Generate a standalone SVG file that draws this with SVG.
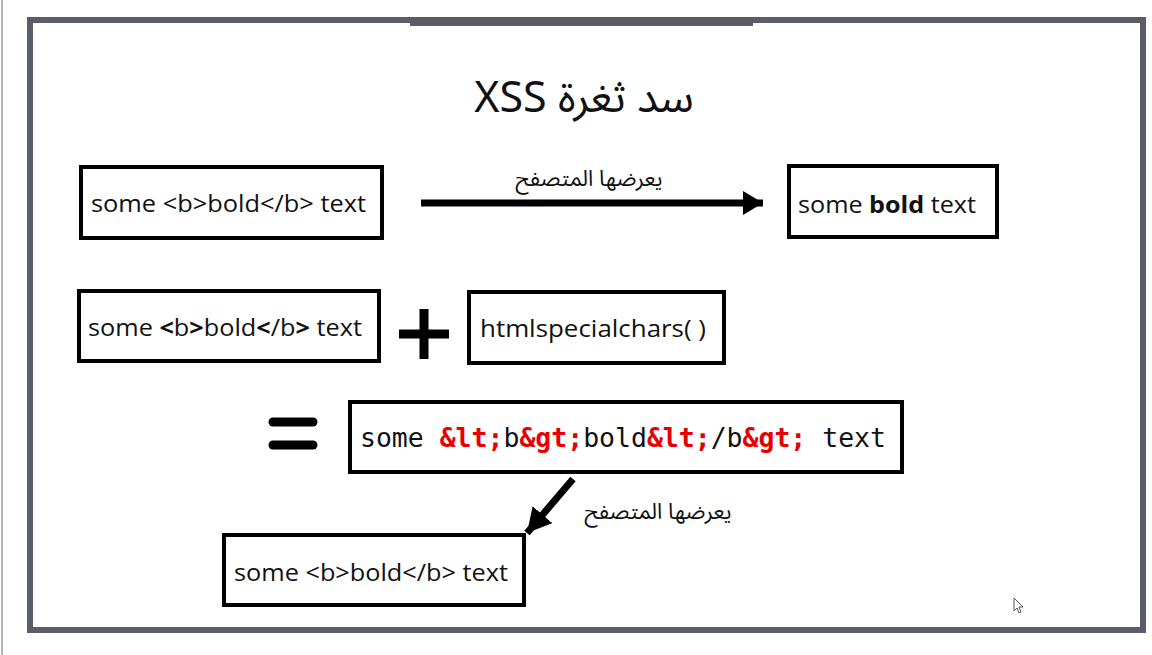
<svg xmlns="http://www.w3.org/2000/svg" width="1152" height="655" viewBox="0 0 1152 655">
<style>
.box{fill:#fff;stroke:#000;stroke-width:4}
.t{font-family:"Open Sans","Noto Sans","Liberation Sans",sans-serif;font-size:24px;fill:#111}
.ar{font-family:"Noto Sans Arabic","DejaVu Sans",sans-serif;font-size:22px;fill:#111}
.mono{font-family:"DejaVu Sans Mono","Liberation Mono",monospace;font-size:26px;fill:#111}
.red{fill:#e80000;font-weight:bold}
.conn{stroke:#000;fill:none}
</style>
<defs>
<marker id="ah" markerUnits="userSpaceOnUse" viewBox="0 0 20 24" refX="20" refY="12" markerWidth="20" markerHeight="24" orient="auto">
<path d="M0,0 L20,12 L0,24 Z" fill="#000"/>
</marker>
<marker id="ah2" markerUnits="userSpaceOnUse" viewBox="0 0 24 26" refX="24" refY="13" markerWidth="24" markerHeight="26" orient="auto">
<path d="M0,0 L24,13 L0,26 Z" fill="#000"/>
</marker>
</defs>
<rect width="1152" height="655" fill="#fff"/>
<line x1="2" y1="0" x2="2" y2="655" stroke="#b8b8bc" stroke-width="2"/>
<g id="frame">
<rect x="30" y="20" width="1113" height="610" fill="#fff" stroke="#5a5c68" stroke-width="6"/>
<rect x="410" y="17" width="343" height="9" fill="#5a5c68"/>
</g>
<g id="title">
<text x="584" y="112" direction="rtl" text-anchor="middle" font-family="Noto Sans Arabic, DejaVu Sans, sans-serif" font-size="43" fill="#111">سد ثغرة XSS</text>
</g>
<g id="connectors">
<line class="conn" x1="421" y1="203" x2="763" y2="203" stroke-width="7" marker-end="url(#ah)"/>
<line class="conn" x1="573" y1="479" x2="527" y2="533" stroke-width="7" marker-end="url(#ah2)"/>
<text class="ar" x="589" y="186" direction="rtl" text-anchor="middle">يعرضها المتصفح</text>
<text class="ar" x="658" y="519" direction="rtl" text-anchor="middle">يعرضها المتصفح</text>
</g>
<g id="node-source">
<rect class="box" x="81" y="167" width="301" height="71"/>
<text class="t" x="91" y="212" textLength="275" lengthAdjust="spacingAndGlyphs">some &lt;b&gt;bold&lt;/b&gt; text</text>
</g>
<g id="node-rendered">
<rect class="box" x="789" y="166" width="208" height="71"/>
<text class="t" x="798" y="213" textLength="178" lengthAdjust="spacingAndGlyphs">some <tspan font-weight="bold">bold</tspan> text</text>
</g>
<g id="node-input">
<rect class="box" x="79" y="291" width="300" height="70"/>
<text class="t" x="88" y="336" textLength="274" lengthAdjust="spacingAndGlyphs">some <tspan font-weight="bold">&lt;</tspan>b<tspan font-weight="bold">&gt;</tspan>bold<tspan font-weight="bold">&lt;</tspan>/b<tspan font-weight="bold">&gt;</tspan> text</text>
</g>
<g id="plus">
<line x1="424" y1="309" x2="424" y2="359" stroke="#000" stroke-width="9"/>
<line x1="399" y1="334" x2="449" y2="334" stroke="#000" stroke-width="9"/>
</g>
<g id="node-func">
<rect class="box" x="469" y="292" width="255" height="71"/>
<text class="t" x="480" y="337" textLength="226" lengthAdjust="spacingAndGlyphs">htmlspecialchars( )</text>
</g>
<g id="equals">
<line x1="273" y1="422" x2="313" y2="422" stroke="#000" stroke-width="9" stroke-linecap="round"/>
<line x1="273" y1="445" x2="313" y2="445" stroke="#000" stroke-width="9" stroke-linecap="round"/>
</g>
<g id="node-escaped">
<rect class="box" x="350" y="402" width="552" height="70"/>
<text class="mono" x="360" y="447" textLength="526" lengthAdjust="spacingAndGlyphs">some <tspan class="red">&amp;lt;</tspan>b<tspan class="red">&amp;gt;</tspan>bold<tspan class="red">&amp;lt;</tspan>/b<tspan class="red">&amp;gt;</tspan> text</text>
</g>
<g id="node-output">
<rect class="box" x="224" y="535" width="300" height="70"/>
<text class="t" x="234" y="581" textLength="274" lengthAdjust="spacingAndGlyphs">some &lt;b&gt;bold&lt;/b&gt; text</text>
</g>
<g id="cursor">
<path d="M1014,598 L1014,611 L1017,608 L1019,613 L1021,612 L1019,607 L1023,607 Z" fill="#fff" stroke="#555" stroke-width="1"/>
</g>
</svg>
